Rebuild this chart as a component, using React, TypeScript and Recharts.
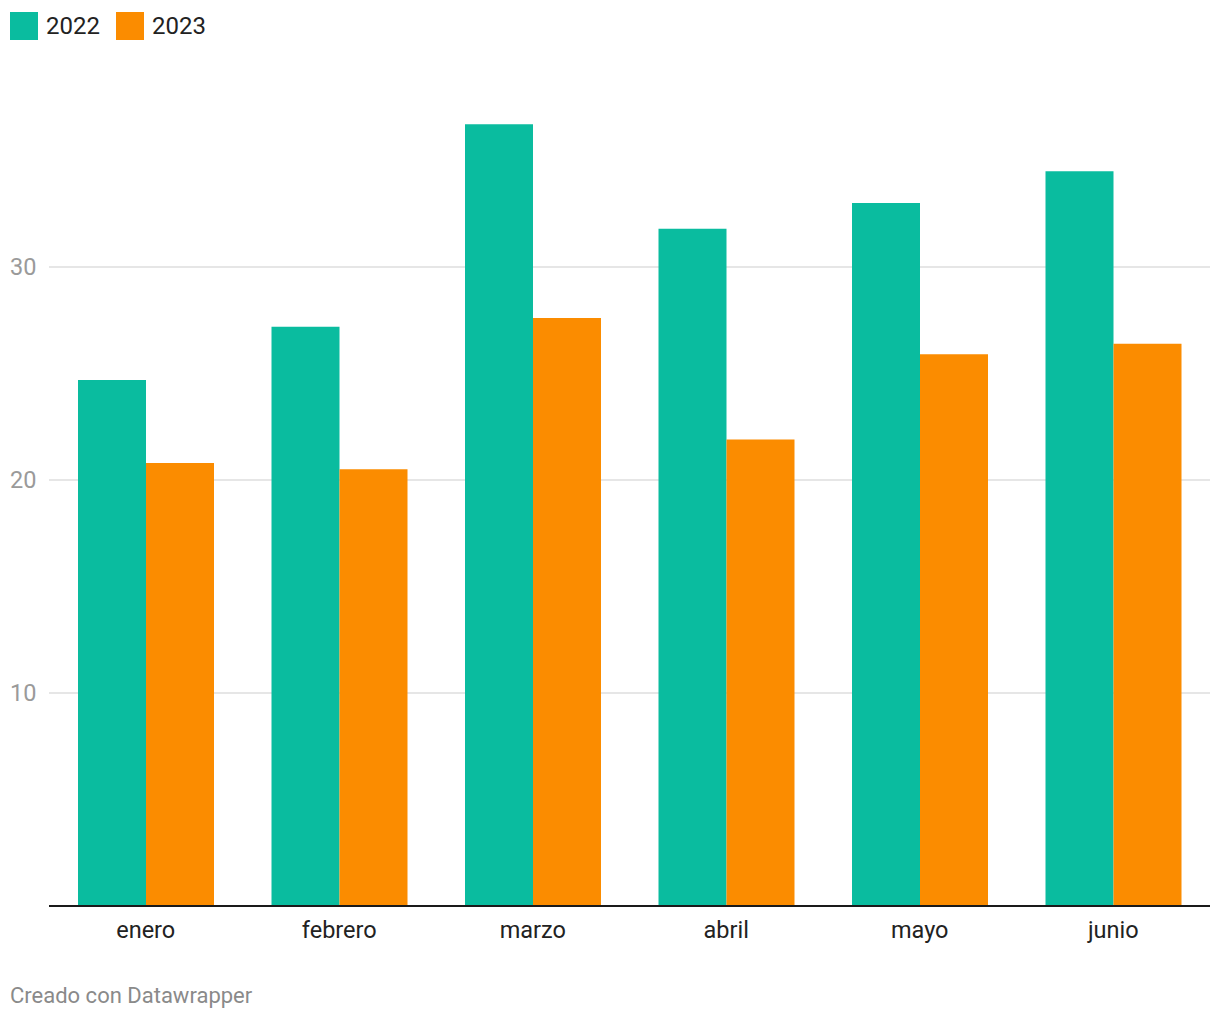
import { BarChart, Bar, XAxis, YAxis, CartesianGrid } from 'recharts';

// ── Data ──────────────────────────────────────────────────────────────────────

const meses = ['enero', 'febrero', 'marzo', 'abril', 'mayo', 'junio'];
const valores2022 = [24.7, 27.2, 36.7, 31.8, 33.0, 34.5];
const valores2023 = [20.8, 20.5, 27.6, 21.9, 25.9, 26.4];
const yTicks = [10, 20, 30];

const data = meses.map((mes, i) => ({
  mes,
  v2022: valores2022[i],
  v2023: valores2023[i],
}));

const TEAL = '#0abc9f';
const ORANGE = '#fb8c00';
const FONT = 'Roboto, "Noto Sans", sans-serif';

// ── Ticks ─────────────────────────────────────────────────────────────────────

function YTick({ y, payload }: any) {
  return (
    <text x={10} y={y} dy={8} textAnchor="start" fontSize={23.5} fontFamily={FONT} fill="#9a9a9a">
      {payload.value}
    </text>
  );
}

function XTick({ x, y, payload }: any) {
  return (
    <text x={x} y={y} dy={24} textAnchor="middle" fontSize={23.5} fontFamily={FONT} fill="#222">
      {payload.value}
    </text>
  );
}

function Legend() {
  const item = (color: string, label: string) => (
    <div style={{ display: 'flex', alignItems: 'center', marginRight: 16 }}>
      <div style={{ width: 28, height: 28, background: color, marginRight: 8 }} />
      <span style={{ fontSize: 24, color: '#222', lineHeight: '28px' }}>{label}</span>
    </div>
  );
  return (
    <div style={{ position: 'absolute', top: 12, left: 10, display: 'flex', fontFamily: FONT }}>
      {item(TEAL, '2022')}
      {item(ORANGE, '2023')}
    </div>
  );
}

// ── App ───────────────────────────────────────────────────────────────────────

export default function App() {
  return (
    <div style={{ position: 'relative', width: 1220, height: 1020, background: 'white', fontFamily: FONT }}>
      <style>{'body { margin: 0; }'}</style>
      <Legend />
      <div style={{ position: 'absolute', top: 0, left: 0 }}>
        <BarChart
          width={1220}
          height={960}
          data={data}
          margin={{ top: 54, right: 10, left: 0, bottom: 0 }}
          barSize={68}
          barGap={0}
        >
          <CartesianGrid vertical={false} horizontalValues={yTicks} stroke="#e6e6e6" strokeWidth={2} />
          <XAxis
            dataKey="mes"
            height={54}
            tick={<XTick />}
            tickLine={false}
            axisLine={{ stroke: '#1a1a1a', strokeWidth: 2 }}
          />
          <YAxis
            domain={[0, 40]}
            ticks={yTicks}
            width={49}
            tick={<YTick />}
            tickLine={false}
            axisLine={false}
          />
          <Bar dataKey="v2022" fill={TEAL} isAnimationActive={false} />
          <Bar dataKey="v2023" fill={ORANGE} isAnimationActive={false} />
        </BarChart>
      </div>
      <div style={{ position: 'absolute', top: 983, left: 10, fontSize: 22, color: '#8a8a8a' }}>
        Creado con Datawrapper
      </div>
    </div>
  );
}
